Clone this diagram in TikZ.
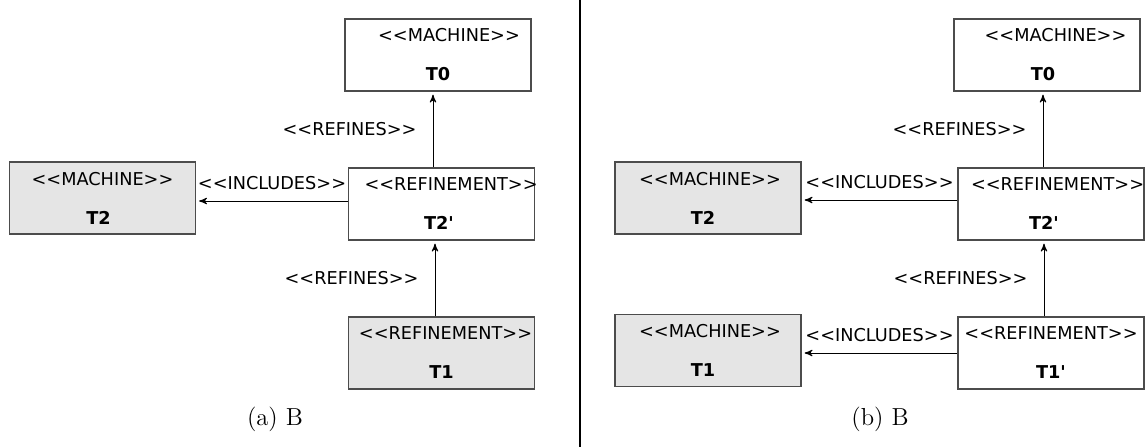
\documentclass[tikz,border=0pt]{standalone}
\usepackage{fontspec}
\usepackage{tikz}
\usetikzlibrary{arrows}
\newfontfamily\umlfont{DejaVu Sans}

\begin{document}
\begin{tikzpicture}[->,>=stealth',shorten >=1.5pt,auto,x=0.5pt,y=0.5pt,
	node distance=74.5pt,line width=0.5pt]
	\tikzstyle{unit}=[draw=black!70,line width=0.7pt,fill=white,text=black,
		text width=93pt,minimum height=36pt,inner xsep=0pt,inner ysep=0pt,align=center,
		font=\umlfont\fontsize{8.85pt}{19.5pt}\selectfont]
	\tikzstyle{shaded unit}=[unit,fill=black!10]
	\tikzstyle{rel}=[font=\umlfont\fontsize{8.85pt}{10pt}\selectfont,inner xsep=8pt,inner ysep=5.5pt]
	\useasboundingbox (0,0) rectangle (1148,-447);

	% (a)
	\node[unit]                    (aT0)  at (438,-55) {\mbox{\hspace*{11pt}<<MACHINE>>}\\\textbf{T0}};
	\node[unit]                    (aT2p) [below of=aT0,xshift=1.75pt] {\mbox{\hspace*{8pt}<<REFINEMENT>>}\\\textbf{T2\textquotesingle}\hspace*{2.5pt}};
	\node[shaded unit]             (aT1)  [below of=aT2p] {\mbox{\hspace*{4pt}<<REFINEMENT>>}\\\textbf{T1}};
	\node[shaded unit]             (aT2)  [node distance=169.5pt,left of=aT2p,yshift=3pt] {\mbox{<<MACHINE>>}\\\textbf{T2}\hspace*{4pt}};
	\node[font=\fontsize{12.3pt}{14pt}\selectfont] (acap) at (275,-419) {(a) B};

	\path
	([xshift=-4.25pt]aT2p.north) edge node[rel] {<<REFINES>>} ([xshift=-4.25pt]aT2p.north |- aT0.south)
	([xshift=-3.25pt]aT1.north)  edge node[rel] {<<REFINES>>} ([xshift=-3.25pt]aT1.north |- aT2p.south)
	([yshift=1.5pt]aT2p.west)    edge node[rel,swap] {<<INCLUDES>>} ([yshift=1.5pt]aT2p.west -| aT2.east);

	\draw[-,line width=1pt,shorten >=0pt] (580,0) -- (580,-447);

	% (b)
	\node[unit]                    (bT0)  at (1047,-55) {\mbox{\hspace*{8.5pt}<<MACHINE>>}\\\textbf{T0}\hspace*{4pt}};
	\node[unit]                    (bT2p) [below of=bT0,xshift=2pt] {\mbox{\hspace*{6.5pt}<<REFINEMENT>>}\\\textbf{T2\textquotesingle}\hspace*{7pt}};
	\node[unit]                    (bT1p) [below of=bT2p] {\mbox{<<REFINEMENT>>}\\\textbf{T1\textquotesingle}};
	\node[shaded unit]             (bT2)  [node distance=171.5pt,left of=bT2p,yshift=3pt] {\mbox{\hspace*{2pt}<<MACHINE>>}\\\textbf{T2}\hspace*{5pt}};
	\node[shaded unit]             (bT1)  [node distance=171.5pt,left of=bT1p,yshift=1.25pt] {\mbox{\hspace*{2pt}<<MACHINE>>}\\\textbf{T1}\hspace*{5pt}};
	\node[font=\fontsize{12.3pt}{14pt}\selectfont] (bcap) at (880,-419) {(b) B};

	\path
	([xshift=-4pt]bT2p.north)   edge node[rel] {<<REFINES>>} ([xshift=-4pt]bT2p.north |- bT0.south)
	([xshift=-3.5pt]bT1p.north) edge node[rel] {<<REFINES>>} ([xshift=-3.5pt]bT1p.north |- bT2p.south)
	([yshift=2pt]bT2p.west)     edge node[rel,swap] {<<INCLUDES>>} ([yshift=2pt]bT2p.west -| bT2.east)
	(bT1p.west)                 edge node[rel,swap] {<<INCLUDES>>} (bT1p.west -| bT1.east);
\end{tikzpicture}
\end{document}
